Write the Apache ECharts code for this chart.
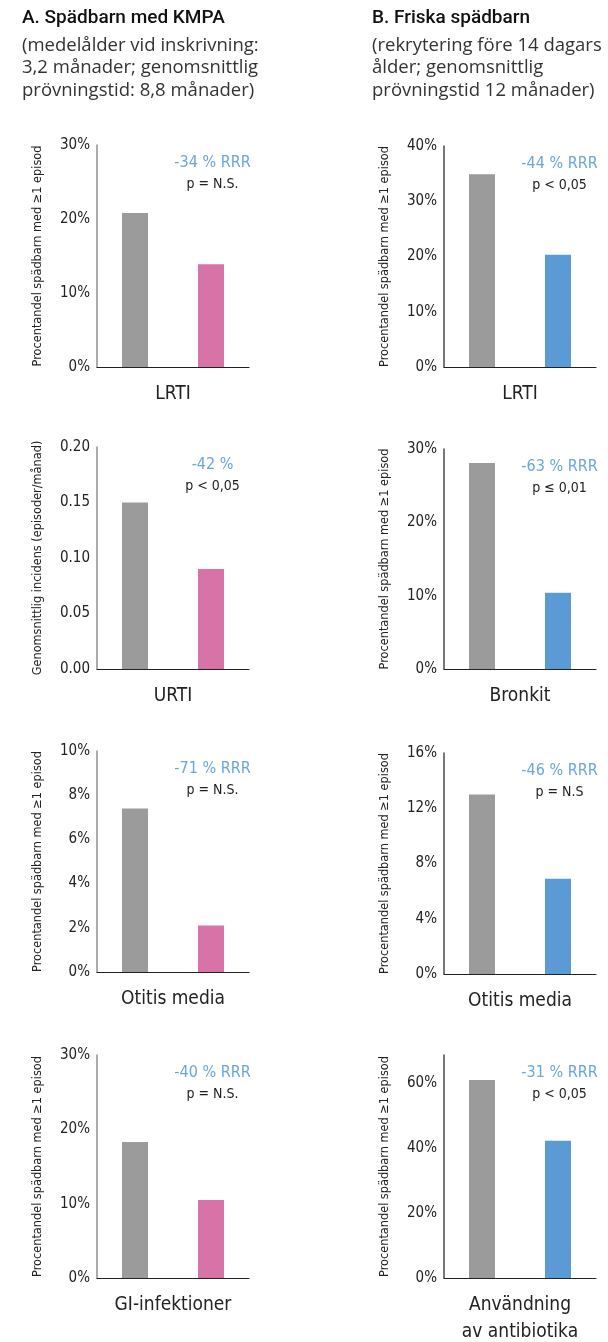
<!DOCTYPE html>
<html>
<head>
<meta charset="utf-8">
<script src="https://cdn.jsdelivr.net/npm/echarts@6/dist/echarts.min.js"></script>
<style>
  html, body { margin: 0; padding: 0; background: #fff; }
  #chart { width: 608px; height: 1342px; }
</style>
</head>
<body>
<div id="chart"></div>
<script>
// panel A: infants with CMPA
const categoriesA = ['LRTI', 'URTI', 'Otitis media', 'GI-infektioner'];
const controlA = [20.8, 0.15, 7.4, 18.3];
const testA = [13.9, 0.09, 2.1, 10.5];
const maxA = [30, 0.2, 10, 30];
const intervalA = [10, 0.05, 2, 10];
const rrrA = ['-34 % RRR', '-42 %', '-71 % RRR', '-40 % RRR'];
const pA = ['p = N.S.', 'p < 0,05', 'p = N.S.', 'p = N.S.'];
const yNameA = [
    'Procentandel spädbarn med ≥1 episod',
    'Genomsnittlig incidens (episoder/månad)',
    'Procentandel spädbarn med ≥1 episod',
    'Procentandel spädbarn med ≥1 episod'
];

// panel B: healthy infants
const categoriesB = ['LRTI', 'Bronkit', 'Otitis media', 'Användning\nav antibiotika'];
const controlB = [34.9, 28.1, 13.0, 60.9];
const testB = [20.3, 10.4, 6.9, 42.2];
const maxB = [40, 30, 16, 68.6];
const intervalB = [10, 10, 4, 20];
const rrrB = ['-44 % RRR', '-63 % RRR', '-46 % RRR', '-31 % RRR'];
const pB = ['p < 0,05', 'p ≤ 0,01', 'p = N.S', 'p < 0,05'];
const yNameB = 'Procentandel spädbarn med ≥1 episod';

const NARROW = '"Liberation Sans Narrow", "DejaVu Sans Condensed", sans-serif';

// layout of the 8 small grids
const rowsA = [{ top: 145, bottom: 367 }, { top: 447, bottom: 669 }, { top: 751, bottom: 972 }, { top: 1055, bottom: 1278 }];
const rowsB = [{ top: 146, bottom: 367 }, { top: 449, bottom: 669 }, { top: 753, bottom: 974 }, { top: 1055, bottom: 1278 }];
const colA = { left: 97, width: 152, yLine: '#8f8f8f', bar: '#d873a8', nameX: 37 };
const colB = { left: 444, width: 152, yLine: '#4a4a4a', bar: '#5b9bd5', nameX: 384 };

const grids = [], xAxes = [], yAxes = [], series = [], graphics = [];

function addPanel(col, row, cat, ctrl, test, max, interval, yName, rrr, p, fmt) {
    const i = grids.length;
    grids.push({
        left: col.left, width: col.width, top: row.top, height: row.bottom - row.top,
        containLabel: false, outerBoundsMode: 'none'
    });
    xAxes.push({
        type: 'category', gridIndex: i, data: ['kontroll', 'studie'],
        axisLine: { lineStyle: { color: '#222', width: 1.2 } },
        axisTick: { show: false }, axisLabel: { show: false },
        name: cat, nameLocation: 'middle', nameGap: 14,
        nameTextStyle: {
            fontFamily: NARROW, fontSize: 19, color: '#222', lineHeight: 27,
            verticalAlign: 'top'
        }
    });
    yAxes.push({
        type: 'value', gridIndex: i, min: 0, max: max, interval: interval,
        axisLine: { show: true, lineStyle: { color: col.yLine, width: 1.5 } },
        axisTick: { show: false }, splitLine: { show: false },
        axisLabel: {
            formatter: fmt, margin: 7, fontFamily: NARROW, fontSize: 15, color: '#222'
        },
        name: yName, nameLocation: 'middle', nameRotate: 90, nameGap: col.left - col.nameX - 7,
        nameTextStyle: { fontFamily: NARROW, fontSize: 12.6, color: '#222' }
    });
    series.push({
        type: 'bar', xAxisIndex: i, yAxisIndex: i, barWidth: 26, silent: true,
        data: [
            { value: ctrl, itemStyle: { color: '#9b9b9b' } },
            { value: test, itemStyle: { color: col.bar } }
        ]
    });
    const cx = col.left + col.width * 0.76;
    graphics.push({
        type: 'text', x: cx, y: row.top + 18,
        style: { text: rrr, fill: '#6aa6dc', font: '16px ' + NARROW, align: 'center', verticalAlign: 'middle' }
    });
    graphics.push({
        type: 'text', x: cx, y: row.top + 39,
        style: { text: p, fill: '#222', font: '14px ' + NARROW, align: 'center', verticalAlign: 'middle' }
    });
}

const pct = v => (Math.abs(v % 1) < 1e-9 ? v + '%' : '');
for (let k = 0; k < 4; k++) {
    const fmtA = k === 1 ? v => v.toFixed(2) : pct;
    addPanel(colA, rowsA[k], categoriesA[k], controlA[k], testA[k], maxA[k], intervalA[k], yNameA[k], rrrA[k], pA[k], fmtA);
    const fmtB = k === 3 ? v => (v % 20 === 0 ? v + '%' : '') : pct;
    addPanel(colB, rowsB[k], categoriesB[k], controlB[k], testB[k], maxB[k], intervalB[k], yNameB, rrrB[k], pB[k], fmtB);
}

// headers
const HEAD = 'Roboto, "Noto Sans", sans-serif';
const SUB = '"Open Sans", Roboto, sans-serif';
graphics.push({ type: 'text', x: 22, y: 18, style: { text: 'A. Spädbarn med KMPA', fill: '#111', font: '500 19px ' + HEAD, verticalAlign: 'middle' } });
graphics.push({ type: 'text', x: 22, y: 34, style: { text: '(medelålder vid inskrivning:\n3,2 månader; genomsnittlig\nprövningstid: 8,8 månader)', fill: '#333', font: '18.5px ' + SUB, lineHeight: 22.5, verticalAlign: 'top' } });
graphics.push({ type: 'text', x: 372, y: 18, style: { text: 'B. Friska spädbarn', fill: '#111', font: '500 19px ' + HEAD, verticalAlign: 'middle' } });
graphics.push({ type: 'text', x: 372, y: 34, style: { text: '(rekrytering före 14 dagars\nålder; genomsnittlig\nprövningstid 12 månader)', fill: '#333', font: '18.5px ' + SUB, lineHeight: 22.5, verticalAlign: 'top' } });

const chart = echarts.init(document.getElementById('chart'));
chart.setOption({
    backgroundColor: '#fff',
    animation: false,
    grid: grids,
    xAxis: xAxes,
    yAxis: yAxes,
    series: series,
    graphic: graphics
});
</script>
</body>
</html>
